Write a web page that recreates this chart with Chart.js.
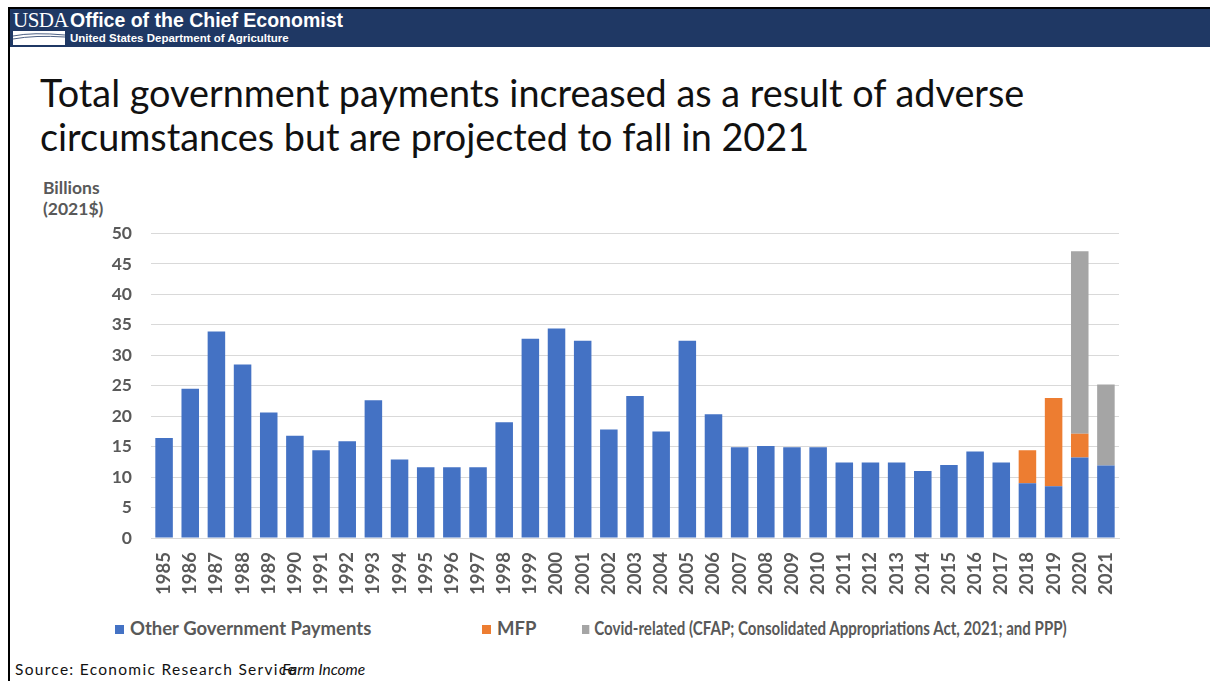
<!DOCTYPE html>
<html>
<head>
<meta charset="utf-8">
<script src="https://cdn.jsdelivr.net/npm/chart.js@4/dist/chart.umd.min.js"></script>
<style>
  html, body { margin: 0; padding: 0; }
  body { width: 1210px; height: 681px; position: relative; overflow: hidden; background: #fff; font-family: "Lato", sans-serif; }
  #frame { position: absolute; left: 8px; top: 7px; right: 0; bottom: 0; border-left: 2px solid #000; border-top: 2px solid #000; }
  #header { position: absolute; left: 10px; top: 9px; right: 0; height: 38px; background: #1f3864; }
  #logo { position: absolute; left: 13px; top: 9px; color: #fff; font-family: "Liberation Serif", serif; font-size: 21px; line-height: 22px; letter-spacing: -0.5px; }
  #office { position: absolute; left: 70px; top: 10px; color: #fff; font-family: "Liberation Sans", Arial, sans-serif; font-weight: bold; font-size: 19.5px; line-height: 21px; }
  #dept { position: absolute; left: 70px; top: 32px; color: #fff; font-family: "Liberation Sans", Arial, sans-serif; font-weight: bold; font-size: 11.5px; line-height: 12px; }
  #title { position: absolute; left: 40px; top: 71px; color: #111; font-size: 37.8px; line-height: 44px; }
  #ytitle { position: absolute; left: 43px; top: 177px; color: #595959; font-weight: bold; font-size: 17.5px; line-height: 21px; }
  #wrap { position: absolute; left: 0; top: 204px; width: 1135px; height: 396px; }
  #legend { position: absolute; left: 0; top: 617px; width: 1210px; height: 22px; }
  .item { position: absolute; top: 0; color: #595959; font-weight: bold; font-size: 18.5px; line-height: 22px; white-space: nowrap; transform-origin: 0 50%; }
  .item i { display: inline-block; width: 9px; height: 9px; margin-right: 6px; vertical-align: 1px; }
  #source { position: absolute; left: 15px; top: 660px; font-size: 15.5px; letter-spacing: 1.3px; color: #111; white-space: nowrap; }
  #source2 { position: absolute; left: 282px; top: 660px; font-size: 15.5px; font-style: italic; color: #111; white-space: nowrap; }
</style>
</head>
<body>
<div id="frame"></div>
<div id="header"></div>
<div id="logo">USDA</div>
<svg style="position:absolute;left:13px;top:31px" width="52" height="14" viewBox="0 0 52 14">
  <rect width="52" height="14" fill="#fff"/>
  <path d="M0 5 Q20 1 52 4" stroke="#1f3864" stroke-width="0.8" fill="none"/>
  <path d="M0 8 Q22 4 52 6" stroke="#1f3864" stroke-width="0.8" fill="none"/>
</svg>
<div id="office">Office of the Chief Economist</div>
<div id="dept">United States Department of Agriculture</div>
<div id="title">Total government payments increased as a result of adverse<br>circumstances but are projected to fall in 2021</div>
<div id="ytitle">Billions<br>(2021$)</div>
<div id="wrap"><canvas id="chart"></canvas></div>
<div id="legend"></div>
<div id="source">Source: Economic Research Service</div>
<div id="source2">Farm Income</div>

<script>
// government payments, billions of 2021 dollars
const years = ["1985", "1986", "1987", "1988", "1989", "1990", "1991", "1992", "1993", "1994",
  "1995", "1996", "1997", "1998", "1999", "2000", "2001", "2002", "2003", "2004",
  "2005", "2006", "2007", "2008", "2009", "2010", "2011", "2012", "2013", "2014",
  "2015", "2016", "2017", "2018", "2019", "2020", "2021"];
const otherPayments = [16.4, 24.5, 33.9, 28.5, 20.6, 16.8, 14.4, 15.9, 22.6, 12.9,
  11.6, 11.6, 11.6, 19.0, 32.7, 34.4, 32.4, 17.8, 23.3, 17.5,
  32.4, 20.3, 14.9, 15.1, 14.9, 14.9, 12.4, 12.4, 12.4, 11.0,
  12.0, 14.2, 12.4, 9.0, 8.5, 13.2, 11.9];
const mfp = [null, null, null, null, null, null, null, null, null, null,
  null, null, null, null, null, null, null, null, null, null,
  null, null, null, null, null, null, null, null, null, null,
  null, null, null, 5.4, 14.5, 3.9, null];
const covid = [null, null, null, null, null, null, null, null, null, null,
  null, null, null, null, null, null, null, null, null, null,
  null, null, null, null, null, null, null, null, null, null,
  null, null, null, null, null, 30.0, 13.3];
const yTicks = [0, 5, 10, 15, 20, 25, 30, 35, 40, 45, 50];

const seriesNames = ["Other Government Payments", "MFP", "Covid-related (CFAP; Consolidated Appropriations Act, 2021; and PPP)"];
const seriesColors = ["#4472c4", "#ed7d31", "#a5a5a5"];
const legendLeft = [115, 482, 582];
const legendSqueeze = [1, 1, 0.815];

const chart = new Chart(document.getElementById("chart"), {
  type: "bar",
  data: {
    labels: years,
    datasets: [otherPayments, mfp, covid].map((vals, i) => ({
      label: seriesNames[i],
      data: vals,
      backgroundColor: seriesColors[i],
      borderWidth: 0,
      categoryPercentage: 1,
      barPercentage: 0.67
    }))
  },
  options: {
    responsive: true,
    maintainAspectRatio: false,
    animation: false,
    layout: { padding: { top: 17, right: 16, left: 0, bottom: 0 } },
    plugins: { legend: { display: false }, tooltip: { enabled: false } },
    scales: {
      x: {
        stacked: true,
        grid: { display: false },
        border: { color: "#d9d9d9" },
        ticks: { color: "#595959", font: { family: "Lato", size: 18.5, weight: "bold" }, minRotation: 90, maxRotation: 90, padding: 6, autoSkip: false },
        afterFit: s => { s.height = 62; }
      },
      y: {
        stacked: true,
        min: 0,
        max: 50,
        afterBuildTicks: s => { s.ticks = yTicks.map(v => ({ value: v })); },
        grid: { color: "#d9d9d9", drawTicks: false },
        border: { display: false },
        ticks: { color: "#595959", font: { family: "Lato", size: 17.5, weight: "bold" }, padding: 19 },
        afterFit: s => { s.width = 151; }
      }
    }
  }
});

// legend built from the datasets
const legend = document.getElementById("legend");
chart.data.datasets.forEach((ds, i) => {
  const el = document.createElement("div");
  el.className = "item";
  el.style.left = legendLeft[i] + "px";
  el.style.transform = "scaleX(" + legendSqueeze[i] + ")";
  el.innerHTML = '<i style="background:' + ds.backgroundColor + '"></i>' + ds.label;
  legend.appendChild(el);
});
</script>
</body>
</html>
